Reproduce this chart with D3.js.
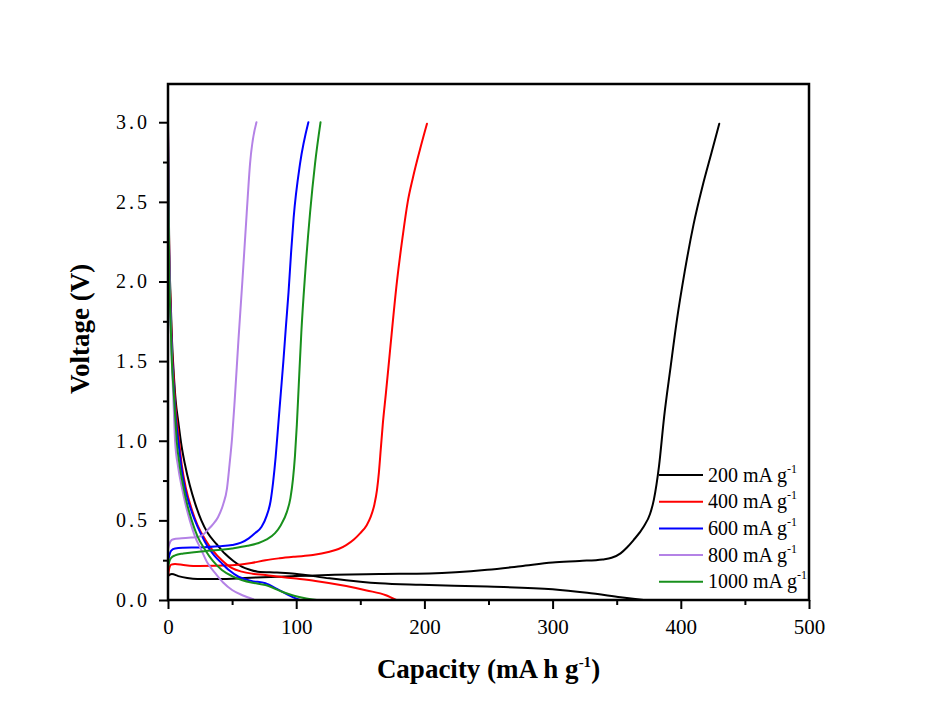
<!DOCTYPE html>
<html><head><meta charset="utf-8">
<script src="https://cdn.jsdelivr.net/npm/d3@7/dist/d3.min.js"></script>
<style>body{margin:0;background:#fff}</style>
</head><body>
<svg id="chart" width="940" height="720"></svg>
<script>
// ---- data (capacity mA h g^-1, voltage V) ----
const seriesNames = ["200", "400", "600", "800", "1000"];
const xTickValues = [0, 100, 200, 300, 400, 500];
const yTickValues = [0, 0.5, 1.0, 1.5, 2.0, 2.5, 3.0];

const discharge200 = [[0,3.0],[0.4,2.6],[1,2.2],[2,1.9],[3,1.65],[4.5,1.42],[6,1.25],[8,1.12],[10.5,0.97],[13,0.86],[17,0.72],[21,0.61],[26,0.5],[31,0.42],[38,0.35],[44.5,0.29],[51,0.245],[57.5,0.21],[64,0.19],[70,0.178],[85,0.172],[99,0.165],[126,0.136],[150,0.115],[165,0.105],[197,0.095],[249,0.084],[300,0.067],[327,0.045],[353,0.018],[371,0.0]];
const charge200 = [[0,0.15],[1.5,0.16],[3,0.163],[8,0.15],[15,0.138],[23,0.132],[40,0.132],[60,0.138],[80,0.145],[99,0.15],[130,0.158],[165,0.163],[204,0.167],[249,0.19],[275,0.212],[300,0.235],[321,0.245],[339,0.255],[346,0.265],[353,0.293],[358,0.33],[363,0.375],[371,0.46],[376,0.54],[379,0.63],[383,0.84],[387,1.15],[392,1.46],[397,1.76],[403,2.06],[410,2.36],[417,2.6],[424,2.81],[430,2.99]];

const discharge400 = [[0,2.95],[0.4,2.55],[1,2.15],[2,1.85],[3,1.6],[4.5,1.38],[6,1.2],[8,1.05],[10.7,0.85],[14,0.7],[18.5,0.57],[23,0.47],[29,0.38],[35,0.31],[42,0.25],[50,0.2],[57.5,0.178],[66,0.165],[76,0.157],[87,0.146],[98,0.136],[115,0.12],[139,0.088],[155,0.06],[170,0.03],[178,0.0]];
const charge400 = [[0,0.15],[1,0.2],[2.5,0.222],[5.5,0.226],[12,0.22],[24,0.213],[50,0.218],[65,0.232],[76,0.25],[87,0.262],[99,0.272],[113,0.282],[126,0.303],[133,0.32],[139,0.345],[145,0.38],[150,0.42],[155,0.47],[158,0.52],[161,0.6],[163,0.69],[164.5,0.8],[166,0.95],[167.5,1.1],[170,1.3],[173,1.55],[178.6,2.0],[183,2.28],[187,2.5],[191,2.65],[196.6,2.83],[202,2.99]];

const discharge600 = [[0,2.95],[0.4,2.5],[1,2.1],[2,1.8],[3,1.55],[4.5,1.33],[6,1.15],[8,1.0],[10.5,0.83],[13,0.71],[17,0.59],[21,0.5],[26,0.41],[31,0.335],[36,0.28],[42,0.23],[48,0.185],[55,0.146],[65,0.12],[76,0.105],[85,0.07],[94,0.031],[103,0.0]];
const charge600 = [[0,0.24],[1,0.28],[2.5,0.31],[5.5,0.324],[12,0.328],[24,0.33],[40,0.337],[50,0.345],[57,0.36],[63,0.387],[68,0.42],[73,0.46],[77,0.53],[80,0.62],[82,0.74],[84,0.9],[86,1.1],[88,1.3],[90,1.5],[92,1.72],[94,1.93],[96,2.18],[98,2.4],[103,2.74],[109.5,3.0]];

const discharge800 = [[0,3.0],[0.4,2.5],[1,2.1],[2,1.75],[3,1.5],[4.5,1.2],[5.5,1.0],[8,0.83],[10.7,0.71],[14,0.59],[17,0.5],[21,0.4],[26,0.314],[31,0.23],[37,0.167],[43,0.11],[50,0.063],[58,0.03],[66.5,0.005]];
const charge800 = [[0,0.32],[1,0.35],[2.9,0.377],[6,0.385],[10.7,0.387],[18,0.392],[24,0.397],[28,0.415],[31,0.44],[35,0.475],[39,0.52],[43,0.6],[46,0.7],[48,0.85],[50,1.02],[52,1.25],[55,1.64],[58,2.0],[61.4,2.43],[64,2.74],[69,3.0]];

const discharge1000 = [[0,2.9],[0.4,2.45],[1,2.05],[2,1.75],[3,1.5],[4.5,1.3],[6,1.1],[6.8,1.0],[9,0.85],[12,0.71],[15,0.6],[18.5,0.5],[23,0.4],[29,0.314],[35,0.245],[42,0.188],[50,0.15],[57.5,0.126],[66,0.108],[76,0.094],[88,0.055],[99,0.025],[106,0.012],[116,0.0]];
const charge1000 = [[0,0.2],[1,0.24],[2.5,0.265],[5.5,0.28],[12,0.292],[24,0.303],[50,0.324],[62,0.34],[70,0.356],[77,0.38],[83.5,0.42],[88,0.47],[92.6,0.55],[95.5,0.64],[97.5,0.76],[99,0.9],[100.5,1.1],[102,1.35],[104,1.68],[107,2.05],[110.8,2.43],[114.7,2.74],[119,3.0]];

// ---- styles ----
const colors = ["#000000", "#ff0000", "#0000ff", "#b482e6", "#18901c"];
const curves = [
  [discharge200, charge200],
  [discharge400, charge400],
  [discharge600, charge600],
  [discharge800, charge800],
  [discharge1000, charge1000]
];

const svg = d3.select("#chart");
svg.append("rect").attr("width", 940).attr("height", 720).attr("fill", "#fff");

const pLeft = 168, pRight = 809, pTop = 84, pBottom = 600;
const x = d3.scaleLinear().domain([0, 500]).range([pLeft, pRight]);
const y = d3.scaleLinear().domain([0, 3.24]).range([pBottom, pTop]);

const serif = "'Liberation Serif','Times New Roman',serif";

// lines
const line = d3.line().x(d => x(d[0])).y(d => y(d[1])).curve(d3.curveMonotoneX);
const plot = svg.append("g");
curves.forEach((pair, i) => {
  pair.forEach(data => {
    plot.append("path").datum(data).attr("d", line)
      .attr("fill", "none").attr("stroke", colors[i]).attr("stroke-width", 2)
      .attr("stroke-linejoin", "round").attr("stroke-linecap", "round");
  });
});

// minor ticks
const xMinor = d3.range(50, 500, 100);
const yMinor = d3.range(0.25, 3.0, 0.5);
svg.append("g").attr("transform", `translate(0,${pBottom})`)
  .call(d3.axisBottom(x).tickValues(xMinor).tickSize(5).tickFormat(""))
  .call(g => g.select(".domain").remove())
  .selectAll("line").attr("stroke-width", 2);
svg.append("g").attr("transform", `translate(${pLeft},0)`)
  .call(d3.axisLeft(y).tickValues(yMinor).tickSize(5).tickFormat(""))
  .call(g => g.select(".domain").remove())
  .selectAll("line").attr("stroke-width", 2);

// major ticks
const xAxis = svg.append("g").attr("transform", `translate(0,${pBottom})`)
  .call(d3.axisBottom(x).tickValues(xTickValues).tickSize(9).tickPadding(10).tickFormat(d3.format("d")));
xAxis.select(".domain").remove();
xAxis.selectAll("line").attr("stroke-width", 2);
xAxis.selectAll("text").attr("font-family", serif).attr("font-size", 21).attr("fill", "#000");

const yAxis = svg.append("g").attr("transform", `translate(${pLeft},0)`)
  .call(d3.axisLeft(y).tickValues(yTickValues).tickSize(9).tickPadding(9).tickFormat(d3.format(".1f")));
yAxis.select(".domain").remove();
yAxis.selectAll("line").attr("stroke-width", 2);
yAxis.selectAll("text").attr("font-family", serif).attr("font-size", 20).attr("fill", "#000")
  .attr("letter-spacing", "3px");

// frame
svg.append("rect").attr("x", pLeft).attr("y", pTop).attr("width", pRight - pLeft).attr("height", pBottom - pTop)
  .attr("fill", "none").attr("stroke", "#000").attr("stroke-width", 2.5);

// axis titles
const xt = svg.append("text").attr("x", (pLeft + pRight) / 2).attr("y", 678)
  .attr("text-anchor", "middle").attr("font-family", serif).attr("font-weight", "bold")
  .attr("font-size", 27).attr("fill", "#000");
xt.append("tspan").text("Capacity (mA h g");
xt.append("tspan").attr("font-size", 15).attr("dy", -11).text("-1");
xt.append("tspan").attr("dy", 11).text(")");

svg.append("text").attr("transform", `translate(89,${(pTop + pBottom) / 2 - 13}) rotate(-90)`)
  .attr("text-anchor", "middle").attr("font-family", serif).attr("font-weight", "bold")
  .attr("font-size", 27).attr("fill", "#000").text("Voltage (V)");

// legend
const legend = svg.append("g");
seriesNames.forEach((name, i) => {
  const cy = 475 + i * 26.7;
  legend.append("line").attr("x1", 659).attr("x2", 703).attr("y1", cy).attr("y2", cy)
    .attr("stroke", colors[i]).attr("stroke-width", 2);
  const t = legend.append("text").attr("x", 708).attr("y", cy + 6.5)
    .attr("font-family", serif).attr("font-size", 20).attr("fill", "#000");
  t.append("tspan").text(name + " mA g");
  t.append("tspan").attr("font-size", 12).attr("dy", -9).text("-1");
});
</script>
</body></html>
